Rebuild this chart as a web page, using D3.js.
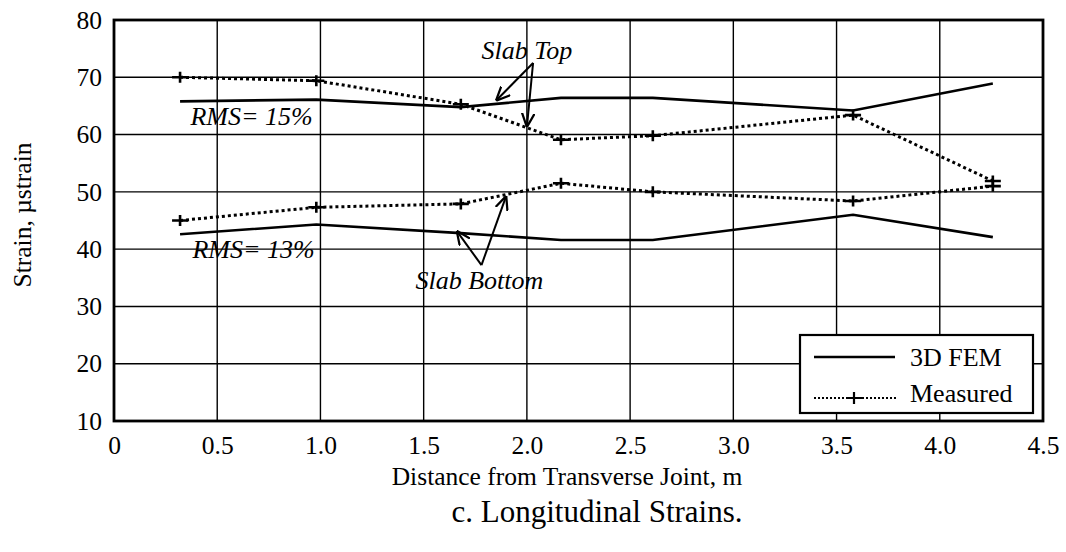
<!DOCTYPE html>
<html>
<head>
<meta charset="utf-8">
<script src="https://cdn.jsdelivr.net/npm/d3@7/dist/d3.min.js"></script>
<style>
  html, body { margin: 0; padding: 0; background: #fff; }
  svg text { font-family: "Liberation Serif", "Times New Roman", serif; fill: #000; }
</style>
</head>
<body>
<svg id="chart" width="1066" height="552"></svg>
<script>
// Distances from the transverse joint (m)
const distance = [0.32, 0.98, 1.68, 2.165, 2.61, 3.58, 4.257];

// Slab top strains
const femTop      = [65.8, 66.1, 64.8, 66.4, 66.4, 64.2, 68.9];
const measuredTop = [70.0, 69.4, 65.3, 59.1, 59.8, 63.4, 51.9];

// Slab bottom strains
const femBottom      = [42.6, 44.3, 42.8, 41.6, 41.6, 46.0, 42.1];
const measuredBottom = [45.0, 47.3, 47.9, 51.5, 50.0, 48.4, 51.0];

const xTicks = [0, 0.5, 1.0, 1.5, 2.0, 2.5, 3.0, 3.5, 4.0, 4.5];
const xTickLabels = ["0", "0.5", "1.0", "1.5", "2.0", "2.5", "3.0", "3.5", "4.0", "4.5"];
const yTicks = [10, 20, 30, 40, 50, 60, 70, 80];

const legendItems = ["3D FEM", "Measured"];

const svg = d3.select("#chart");
const plotL = 114, plotR = 1043, plotT = 20, plotB = 421;

const x = d3.scaleLinear().domain([0, 4.5]).range([plotL, plotR]);
const y = d3.scaleLinear().domain([10, 80]).range([plotB, plotT]);

// grid
const grid = svg.append("g");
grid.selectAll("line.vg").data(xTicks.slice(1, -1)).join("line")
  .attr("x1", d => x(d)).attr("x2", d => x(d))
  .attr("y1", plotT).attr("y2", plotB)
  .attr("stroke", "#000").attr("stroke-width", 1.4);
grid.selectAll("line.hg").data(yTicks.slice(1, -1)).join("line")
  .attr("x1", plotL).attr("x2", plotR)
  .attr("y1", d => y(d)).attr("y2", d => y(d))
  .attr("stroke", "#000").attr("stroke-width", 1.4);

// axes
const xAxis = d3.axisBottom(x).tickValues(xTicks)
  .tickFormat((d, i) => xTickLabels[i]).tickSize(0).tickPadding(15);
svg.append("g").attr("transform", `translate(0,${plotB})`).call(xAxis)
  .call(g => g.select(".domain").remove())
  .selectAll("text").attr("font-size", 25.5).attr("font-family", "Liberation Serif");

const yAxis = d3.axisLeft(y).tickValues(yTicks).tickSize(0).tickPadding(12);
svg.append("g").attr("transform", `translate(${plotL},0)`).call(yAxis)
  .call(g => g.select(".domain").remove())
  .selectAll("text").attr("font-size", 25.5).attr("font-family", "Liberation Serif");

// frame
svg.append("rect")
  .attr("x", plotL).attr("y", plotT)
  .attr("width", plotR - plotL).attr("height", plotB - plotT)
  .attr("fill", "none").attr("stroke", "#000").attr("stroke-width", 2.8);

// series
const line = d3.line().x(d => x(d[0])).y(d => y(d[1]));
const pairs = arr => distance.map((d, i) => [d, arr[i]]);

function solid(arr) {
  svg.append("path").datum(pairs(arr)).attr("d", line)
    .attr("fill", "none").attr("stroke", "#000").attr("stroke-width", 2.6);
}
function dotted(arr) {
  svg.append("path").datum(pairs(arr)).attr("d", line)
    .attr("fill", "none").attr("stroke", "#000").attr("stroke-width", 3)
    .attr("stroke-dasharray", "3,3");
  svg.append("g").selectAll("path").data(pairs(arr)).join("path")
    .attr("d", d => `M${x(d[0]) - 8},${y(d[1])}H${x(d[0]) + 8}M${x(d[0])},${y(d[1]) - 5.5}V${y(d[1]) + 5.5}`)
    .attr("stroke", "#000").attr("stroke-width", 2.6).attr("fill", "none");
}
solid(femTop);
solid(femBottom);
dotted(measuredTop);
dotted(measuredBottom);

// annotations
const defs = svg.append("defs");
defs.append("marker").attr("id", "arrow").attr("viewBox", "0 0 10 10")
  .attr("refX", 10).attr("refY", 5).attr("markerWidth", 14).attr("markerHeight", 14)
  .attr("markerUnits", "userSpaceOnUse").attr("orient", "auto")
  .append("path").attr("d", "M0,0.5L10,5L0,9.5").attr("fill", "none")
  .attr("stroke", "#000").attr("stroke-width", 1.6);

function arrow(x1, y1, x2, y2) {
  svg.append("line").attr("x1", x1).attr("y1", y1).attr("x2", x2).attr("y2", y2)
    .attr("stroke", "#000").attr("stroke-width", 2).attr("marker-end", "url(#arrow)");
}
function label(t, xv, yv, anchor) {
  svg.append("text").attr("x", x(xv)).attr("y", y(yv))
    .attr("text-anchor", anchor || "start")
    .attr("font-size", 26).attr("font-style", "italic").text(t);
}

label("Slab Top", 2.0, 73.2, "middle");
arrow(x(2.03), y(72.5), x(1.85), y(65.9));
arrow(x(2.03), y(72.5), x(2.0), y(61.3));

label("RMS= 15%", 0.37, 61.6);
label("RMS= 13%", 0.38, 38.4);

label("Slab Bottom", 1.46, 33.0, "start");
arrow(x(1.78), y(37.2), x(1.66), y(43.2));
arrow(x(1.78), y(37.2), x(1.90), y(49.3));

// legend
const lg = svg.append("g");
lg.append("rect").attr("x", 800).attr("y", 335).attr("width", 233).attr("height", 78)
  .attr("fill", "#fff").attr("stroke", "#000").attr("stroke-width", 2.2);
lg.append("line").attr("x1", 814).attr("x2", 895).attr("y1", 357).attr("y2", 357)
  .attr("stroke", "#000").attr("stroke-width", 2.6);
lg.append("line").attr("x1", 814).attr("x2", 897).attr("y1", 398).attr("y2", 398)
  .attr("stroke", "#000").attr("stroke-width", 2).attr("stroke-dasharray", "2,2");
lg.append("path").attr("d", "M846,398H862M854,392V404")
  .attr("stroke", "#000").attr("stroke-width", 2.2);
lg.selectAll("text").data(legendItems).join("text")
  .attr("x", 910).attr("y", (d, i) => 366 + i * 36)
  .attr("font-size", 26).text(d => d);

// axis titles
svg.append("text").attr("x", 567).attr("y", 485)
  .attr("text-anchor", "middle").attr("font-size", 25.5)
  .text("Distance from Transverse Joint, m");
svg.append("text")
  .attr("transform", `translate(31,215) rotate(-90)`)
  .attr("text-anchor", "middle").attr("font-size", 25.5)
  .text("Strain, µstrain");
svg.append("text").attr("x", 597).attr("y", 522)
  .attr("text-anchor", "middle").attr("font-size", 31)
  .text("c. Longitudinal Strains.");
</script>
</body>
</html>
